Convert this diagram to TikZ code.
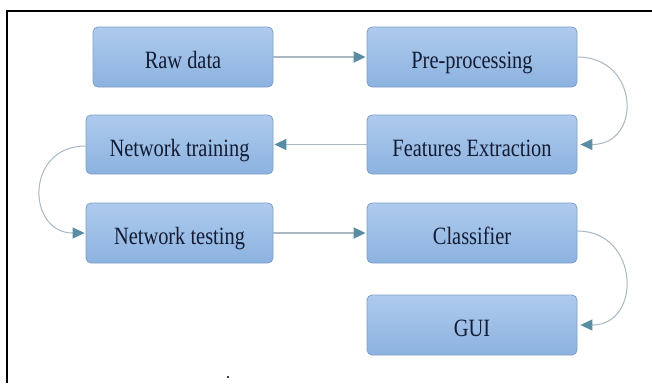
\documentclass[tikz,border=0pt]{standalone}
\usepackage{fontspec}
\setmainfont{Liberation Serif}
\usetikzlibrary{arrows.meta}
\definecolor{boxtop}{HTML}{AECBEE}
\definecolor{boxbot}{HTML}{8CB2DF}
\definecolor{boxborder}{HTML}{7E9FC6}
\definecolor{txt}{HTML}{141C34}
\definecolor{linecol}{HTML}{A9B8C2}
\definecolor{headcol}{HTML}{5A8CA3}
\newcommand{\boxtext}[1]{\raisebox{-11.5pt}[0pt][0pt]{\scalebox{1}[1.22]{#1}}}
\begin{document}
\begin{tikzpicture}[x=1pt,y=-1pt,
  flowbox/.style={rounded corners=5pt, draw=boxborder, line width=0.8pt,
    top color=boxtop, bottom color=boxbot, minimum height=60pt, inner sep=0pt,
    font=\fontsize{20.4}{24}\selectfont, text=txt},
  conn/.style={draw=linecol, line width=1.8pt,
    -{Triangle[length=12pt,width=11pt,color=headcol]}},
  curveconn/.style={draw=linecol, line width=1pt,
    -{Triangle[length=12pt,width=11pt,color=headcol]}},
  frameline/.style={draw=black, line width=2pt}]
\useasboundingbox (0,0) rectangle (652,383);
\fill[white] (0,0) rectangle (652,383);
% frame
\coordinate (fr) at (652,11);
\coordinate (fc) at (7,11);
\coordinate (fb) at (7,383);
\draw[frameline] (fr) -- (fc) -- (fb);
% boxes
\node[flowbox, minimum width=180pt] (raw) at (183,57) {\boxtext{Raw data}};
\node[flowbox, minimum width=210pt] (pre) at (472,57) {\boxtext{Pre-processing}};
\node[flowbox, minimum width=187pt, minimum height=59pt] (train) at (179.5,144.5) {\boxtext{Network training}};
\node[flowbox, minimum width=210pt, minimum height=59pt] (feat) at (472,144.5) {\boxtext{Features Extraction}};
\node[flowbox, minimum width=187pt] (test) at (179.5,233) {\boxtext{Network testing}};
\node[flowbox, minimum width=210pt] (clf) at (472,233) {\boxtext{Classifier}};
\node[flowbox, minimum width=210pt] (gui) at (472,325) {\boxtext{GUI}};
% straight connectors
\draw[conn] (raw.east) -- ([xshift=-1pt]pre.west);
\draw[conn] (feat.west) -- ([xshift=1pt]train.east);
\draw[conn] (test.east) -- ([xshift=-1pt]clf.west);
% curved connectors
\draw[curveconn] (pre.east) .. controls +(62,0) and +(62,0) .. ([xshift=3pt]feat.east);
\draw[curveconn] ([yshift=-1.5pt]train.west) .. controls +(-61,0) and +(-58,0) .. ([xshift=-1pt]test.west);
\draw[curveconn] ([yshift=2pt]clf.east) .. controls +(62,0) and +(62,0) .. ([xshift=3pt]gui.east);
% dot
\node[circle, fill=black, inner sep=0pt, minimum size=2.4pt] (dot) at (228,377) {};
\end{tikzpicture}
\end{document}
